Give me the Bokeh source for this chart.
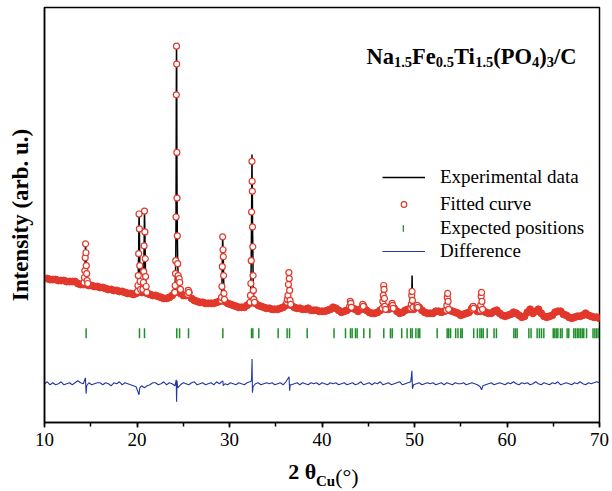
import math
from bokeh.plotting import figure
from bokeh.models import (Range1d, SingleIntervalTicker, FixedTicker, LinearAxis, Label,
                          Legend, LegendItem)
from bokeh.embed import file_html
from bokeh.resources import INLINE

# ---------------- data ----------------
# background part of the pattern (observed == calculated here), arb. units
bg_x = [10.0, 10.3, 10.6, 10.9, 11.2, 11.5, 11.8, 12.1, 12.4, 12.7,
        13.0, 13.3, 13.6, 13.9, 14.2, 14.5, 14.8, 15.1, 15.4, 15.7,
        16.0, 16.3, 16.6, 16.9, 17.2, 17.5, 17.8, 18.1, 18.4, 18.7,
        19.0, 19.3, 19.6, 19.9, 20.2, 20.5, 20.8, 21.1, 21.4, 21.7,
        22.0, 22.3, 22.6, 22.9, 23.2, 23.5, 23.8, 24.1, 24.4, 24.7,
        25.0, 25.3, 25.6, 25.9, 26.2, 26.5, 26.8, 27.1, 27.4, 27.7,
        28.0, 28.3, 28.6, 28.9, 29.2, 29.5, 29.8, 30.1, 30.4, 30.7,
        31.0, 31.3, 31.6, 31.9, 32.2, 32.5, 32.8, 33.1, 33.4, 33.7,
        34.0, 34.3, 34.6, 34.9, 35.2, 35.5, 35.8, 36.1, 36.4, 36.7,
        37.0, 37.3, 37.6, 37.9, 38.2, 38.5, 38.8, 39.1, 39.4, 39.7,
        40.0, 40.3, 40.6, 40.9, 41.2, 41.5, 41.8, 42.1, 42.4, 42.7,
        43.0, 43.3, 43.6, 43.9, 44.2, 44.5, 44.8, 45.1, 45.4, 45.7,
        46.0, 46.3, 46.6, 46.9, 47.2, 47.5, 47.8, 48.1, 48.4, 48.7,
        49.0, 49.3, 49.6, 49.9, 50.2, 50.5, 50.8, 51.1, 51.4, 51.7,
        52.0, 52.3, 52.6, 52.9, 53.2, 53.5, 53.8, 54.1, 54.4, 54.7,
        55.0, 55.3, 55.6, 55.9, 56.2, 56.5, 56.8, 57.1, 57.4, 57.7,
        58.0, 58.3, 58.6, 58.9, 59.2, 59.5, 59.8, 60.1, 60.4, 60.7,
        61.0, 61.3, 61.6, 61.9, 62.2, 62.5, 62.8, 63.1, 63.4, 63.7,
        64.0, 64.3, 64.6, 64.9, 65.2, 65.5, 65.8, 66.1, 66.4, 66.7,
        67.0, 67.3, 67.6, 67.9, 68.2, 68.5, 68.8, 69.1, 69.4, 69.7,
        70.0]
bg_y = [145, 145, 144, 144, 144, 143, 143, 143, 142, 142,
        142, 142, 140, 139, 139, 139, 138, 138, 137, 137,
        136, 136, 135, 134, 134, 133, 133, 132, 132, 131,
        130, 130, 129, 130, 132, 131, 132, 130, 129, 128,
        128, 127, 126, 125, 125, 126, 128, 131, 132, 130,
        128, 128, 131, 125, 123, 122, 121, 121, 120, 120,
        120, 120, 121, 122, 123, 122, 120, 119, 118, 117,
        116, 116, 116, 118, 120, 122, 120, 118, 117, 116,
        115, 115, 114, 114, 114, 115, 116, 118, 119, 118,
        116, 115, 115, 114, 114, 115, 113, 113, 113, 112,
        112, 112, 113, 114, 116, 115, 113, 111, 112, 113,
        115, 115, 114, 112, 114, 117, 113, 111, 110, 110,
        111, 113, 115, 115, 114, 117, 115, 112, 110, 111,
        113, 114, 114, 114, 117, 116, 113, 111, 110, 110,
        110, 112, 112, 111, 112, 113, 113, 112, 111, 110,
        108, 109, 110, 111, 115, 115, 112, 112, 113, 111,
        110, 110, 112, 113, 110, 108, 107, 108, 109, 111,
        110, 108, 106, 107, 111, 114, 110, 112, 114, 110,
        107, 106, 107, 108, 111, 112, 112, 109, 108, 106,
        105, 106, 107, 107, 108, 110, 108, 107, 106, 106,
        105]

# Bragg-peak points: 2-theta, observed and calculated intensity
pk_x = [14.27, 14.32, 14.36, 14.40, 14.44, 14.48, 14.52, 14.56, 14.61, 14.67,
        20.06, 20.10, 20.14, 20.18, 20.22, 20.26, 20.30, 20.34, 20.40,
        20.64, 20.69, 20.73, 20.77, 20.81, 20.85, 20.89, 20.93, 20.99, 21.06,
        24.08, 24.12, 24.16, 24.19, 24.22, 24.25, 24.27, 24.29, 24.31, 24.33,
        24.36, 24.40, 24.45, 24.50, 24.56, 24.62, 24.70,
        25.48, 25.54, 25.60,
        29.10, 29.14, 29.18, 29.22, 29.26, 29.30, 29.33, 29.36, 29.40, 29.46,
        32.22, 32.27, 32.31, 32.35, 32.39, 32.43, 32.45, 32.47, 32.49, 32.52,
        32.55, 32.58, 32.63, 32.70,
        36.20, 36.26, 36.32, 36.37, 36.42, 36.46, 36.50, 36.55, 36.62,
        43.00, 43.06, 43.12, 43.18,
        44.34, 44.40, 44.46,
        46.52, 46.58, 46.63, 46.67, 46.71, 46.75, 46.80, 46.88,
        47.52, 47.58, 47.64, 47.70,
        49.60, 49.66, 49.70, 49.74, 49.78, 49.84,
        50.24, 50.30, 50.36,
        53.44, 53.50, 53.55, 53.59, 53.63, 53.69,
        56.28, 56.34, 56.40,
        57.10, 57.16, 57.21, 57.25, 57.29, 57.35]
pk_calc = [141, 146, 153, 166, 180, 171, 158, 150, 143, 140,
           132, 138, 148, 170, 210, 195, 158, 142, 134,
           134, 141, 152, 178, 213, 192, 165, 147, 137, 131,
           131, 138, 150, 163, 207, 330, 379, 361, 272, 226,
           188, 160, 148, 143, 145, 141, 134,
           129, 133, 131,
           123, 126, 137, 157, 187, 174, 167, 148, 130, 124,
           121, 128, 140, 163, 212, 263, 243, 233, 197, 177,
           148, 133, 124, 121,
           121, 124, 128, 139, 151, 145, 133, 123, 119,
           117, 122, 120, 116,
           116, 119, 117,
           115, 122, 128, 138, 134, 125, 117, 114,
           116, 120, 118, 115,
           115, 119, 128, 132, 123, 116,
           116, 118, 116,
           113, 118, 126, 130, 122, 114,
           114, 117, 115,
           113, 118, 127, 131, 122, 114]
pk_obs = [141, 146, 153, 166, 181, 171, 158, 150, 143, 140,
          132, 138, 148, 170, 212, 195, 158, 142, 134,
          134, 141, 152, 178, 215, 192, 165, 147, 137, 131,
          131, 138, 150, 163, 207, 330, 381, 361, 272, 226,
          188, 160, 148, 143, 145, 141, 134,
          129, 133, 131,
          123, 126, 137, 157, 189, 174, 167, 148, 130, 124,
          121, 128, 140, 163, 212, 270, 243, 233, 197, 177,
          148, 133, 124, 121,
          121, 124, 128, 139, 153, 145, 133, 123, 119,
          117, 122, 120, 116,
          116, 119, 117,
          115, 122, 128, 140, 134, 125, 117, 114,
          116, 120, 118, 115,
          115, 119, 128, 148, 123, 116,
          116, 118, 116,
          113, 118, 126, 131, 122, 114,
          114, 117, 115,
          113, 118, 127, 132, 122, 114]

# difference curve (obs - calc) on the background grid, plus sharp features
diff_d = [0, 2, -1, 1, -1, 0, 2, -1, 0, 1,
          -1, 1, 3, 1, 0, -1, 1, -1, 0, 1,
          1, -1, 1, 0, -2, 1, 0, 2, -1, 1,
          0, -1, -2, -3, -6, -2, -3, -2, -1, 1,
          1, -1, 0, 2, -1, 1, 0, -2, -3, -1,
          1, 0, -1, 1, 2, -1, 0, 1, -1, 0,
          1, -1, 2, 0, 1, 0, -1, 1, 0, -1,
          1, 0, -1, 1, 2, -2, 0, 1, -1, 0,
          1, 0, 1, -1, 0, 1, -1, 2, 1, -1,
          0, 1, -1, 1, 0, -1, 1, 0, 1, -1,
          1, 0, -1, 1, 0, 1, -1, 0, 1, -1,
          0, 1, -1, 0, 2, -1, 0, 1, -1, 1,
          0, 2, -1, 0, 1, -1, 0, 1, 2, -1,
          0, 1, 2, -1, 0, 1, -1, 0, 1, 0,
          1, -1, 0, 1, -1, 1, 0, -1, 1, 0,
          0, 1, -1, 0, 1, 0, -1, -3, -2, -1,
          0, 1, -1, 0, 1, 0, -1, 1, 0, 2,
          0, -1, 1, 0, 1, -1, 0, 2, 0, -1,
          1, 0, -1, 1, 0, 2, -1, 0, 1, 0,
          -1, 1, 0, 2, 0, -1, 1, 0, 1, 2,
          1]
spike_x = [14.42, 14.50, 14.56, 20.22, 20.30, 20.80, 24.24, 24.28, 24.33, 24.40,
           29.28, 29.33, 32.38, 32.44, 32.48, 32.55, 36.44, 36.50, 36.56,
           49.72, 49.78, 57.25]
spike_d = [6, -10, -2, -11, -4, -4, 4, -18, 3, -4,
           3, -2, 3, 25, -9, -3, 7, -7, -1,
           13, -5, -6]

# expected Bragg positions
tick_pos = [14.5, 20.27, 20.81, 24.3, 24.6, 25.57, 29.28, 32.38, 32.52, 33.17,
            35.26, 36.23, 36.49, 38.4, 41.3, 42.54, 43.08, 43.26, 43.62, 43.8,
            44.52, 45.17, 46.68, 47.4, 47.59, 48.62, 49.2, 49.58, 49.75, 50.15,
            50.4, 50.57, 52.45, 53.53, 53.7, 53.9, 54.45, 54.7, 55.0, 55.16,
            56.4, 56.8, 57.07, 57.25, 57.43, 57.86, 58.6, 58.86, 60.74, 60.92,
            61.1, 62.36, 62.6, 63.26, 63.5, 63.73, 63.98, 65.0, 65.17, 65.35,
            65.5, 65.78, 65.96, 66.5, 66.68, 67.22, 67.4, 67.6, 67.77, 67.95,
            68.13, 68.3, 68.6, 69.3, 69.5, 69.68, 69.86]

diff_offset = 39   # vertical shift of the difference curve
tick_level = 90    # vertical position of the Bragg ticks

# ---------------- helpers ----------------
def merged(base_x, base_y, extra_x, extra_y, gap):
    pts = [(x, y) for x, y in zip(base_x, base_y) if all(abs(x - e) > gap for e in extra_x)]
    pts += list(zip(extra_x, extra_y))
    pts.sort()
    return [a for a, _ in pts], [b for _, b in pts]

obs_x, obs_y = merged(bg_x, bg_y, pk_x, pk_obs, 0.13)
dif_x, dif_y = merged(bg_x, diff_d, spike_x, spike_d, 0.1)
dif_y = [d + diff_offset for d in dif_y]

FONT = "Liberation Serif"
RED = "#e2382b"
BLUE = "#2438a0"
GREEN = "#1f8f2a"
BLACK = "#000000"

p = figure(width=612, height=491, x_range=Range1d(10, 70), y_range=Range1d(0, 418),
           output_backend="svg", toolbar_location=None,
           min_border_left=44, min_border_right=13, min_border_top=7, min_border_bottom=66)
p.grid.visible = False
p.background_fill_color = "white"
p.border_fill_color = "white"
p.outline_line_color = BLACK
p.outline_line_width = 1.5
p.outline_line_alpha = 1.0

# y axis: only its title
ay = p.yaxis[0]
ay.ticker = FixedTicker(ticks=[])
ay.major_tick_in = 0
ay.major_tick_out = 0
ay.minor_tick_in = 0
ay.minor_tick_out = 0
ay.major_label_standoff = 0
ay.axis_line_width = 1.5
ay.axis_line_color = BLACK
ay.axis_label = "Intensity (arb. u.)"
ay.axis_label_text_font = FONT
ay.axis_label_text_font_size = "23px"
ay.axis_label_text_font_style = "bold"
ay.axis_label_text_color = BLACK
ay.axis_label_standoff = 12

ax = p.xaxis[0]
ax.ticker = SingleIntervalTicker(interval=10, num_minor_ticks=2)
ax.major_label_text_font = FONT
ax.major_label_text_font_size = "19px"
ax.major_label_text_color = BLACK
ax.axis_line_width = 1.5
ax.axis_line_color = BLACK
ax.major_tick_in = 0
ax.major_tick_out = 5
ax.minor_tick_in = 0
ax.minor_tick_out = 4
ax.major_tick_line_width = 1.5
ax.minor_tick_line_width = 1.5
ax.major_tick_line_color = BLACK
ax.minor_tick_line_color = BLACK

# x-axis title "2 θ_Cu(°)" written as labels of extra (invisible) axes
def title_axis(pos, text, size, style, standoff):
    a = LinearAxis(ticker=FixedTicker(ticks=[pos], minor_ticks=[]),
                   major_label_overrides={pos: text, str(pos): text})
    a.axis_line_color = None
    a.major_tick_line_color = None
    a.minor_tick_line_color = None
    a.major_tick_in = 0
    a.major_tick_out = 0
    a.minor_tick_in = 0
    a.minor_tick_out = 0
    a.major_label_standoff = standoff
    a.major_label_text_font = FONT
    a.major_label_text_font_size = f"{size}px"
    a.major_label_text_font_style = style
    a.major_label_text_color = BLACK
    p.add_layout(a, "below")

title_axis(37.86, "2 θ", 22, "bold", 10)
title_axis(40.39, "Cu", 15, "bold", -14)
title_axis(42.7, "(°)", 22, "normal", -28)

r_obs = p.line(obs_x, obs_y, line_color=BLACK, line_width=1.5)
p.scatter(bg_x, bg_y, marker="circle", size=7, fill_color=RED, line_color=RED, line_width=1)
r_fit = p.scatter(pk_x, pk_calc, marker="circle", size=6, fill_color="white",
                  line_color=RED, line_width=1.2)
r_tick = p.rect(tick_pos, [tick_level] * len(tick_pos), width=1.5, height=10,
                width_units="screen", height_units="screen", fill_color=GREEN, line_color=None)
r_diff = p.line(dif_x, dif_y, line_color=BLUE, line_width=1.1)

common = dict(label_text_font=FONT, label_text_font_size="19px", label_text_color=BLACK,
              label_height=20, padding=0, margin=0,
              border_line_color=None, background_fill_alpha=0)
leg1 = Legend(items=[LegendItem(label="Experimental data", renderers=[r_obs]),
                     LegendItem(label="Fitted curve", renderers=[r_fit])],
              location=(338, 207), glyph_width=43, glyph_height=14, label_standoff=15,
              spacing=5, **common)
leg2 = Legend(items=[LegendItem(label="Expected positions", renderers=[r_tick])],
              location=(358, 183), glyph_width=2, glyph_height=8, label_standoff=36,
              spacing=2, **common)
leg3 = Legend(items=[LegendItem(label="Difference", renderers=[r_diff])],
              location=(338, 160), glyph_width=43, glyph_height=20, label_standoff=15,
              spacing=2, **common)
for lg in (leg1, leg2, leg3):
    p.add_layout(lg)

BOLD_W = {'N': 722, 'a': 500, 'F': 611, 'e': 444, 'T': 667, 'i': 278, '(': 333, 'P': 611,
          'O': 778, ')': 333, '/': 278, 'C': 722, 'u': 556, '1': 500, '.': 250, '5': 500,
          '0': 500, '4': 500, '3': 500, '2': 500, ' ': 250}

def place(pieces, x0, y0, drop):
    x = x0
    for txt, size, sub in pieces:
        p.add_layout(Label(x=x, y=y0 - (drop if sub else 0), x_units="screen", y_units="screen",
                           text=txt, text_font=FONT, text_font_size=f"{size}px",
                           text_font_style="bold", text_align="left",
                           text_baseline="alphabetic", text_color=BLACK))
        x += sum(BOLD_W.get(c, 500) for c in txt) * size / 1000.0

place([("Na", 22.5, False), ("1.5", 14.5, True),
       ("Fe", 22.5, False), ("0.5", 14.5, True),
       ("Ti", 22.5, False), ("1.5", 14.5, True),
       ("(PO", 22.5, False), ("4", 14.5, True),
       (")", 22.5, False), ("3", 14.5, True),
       ("/C", 22.5, False)], 322, 366, 5)

open("out.html", "w").write(file_html(p, INLINE))
